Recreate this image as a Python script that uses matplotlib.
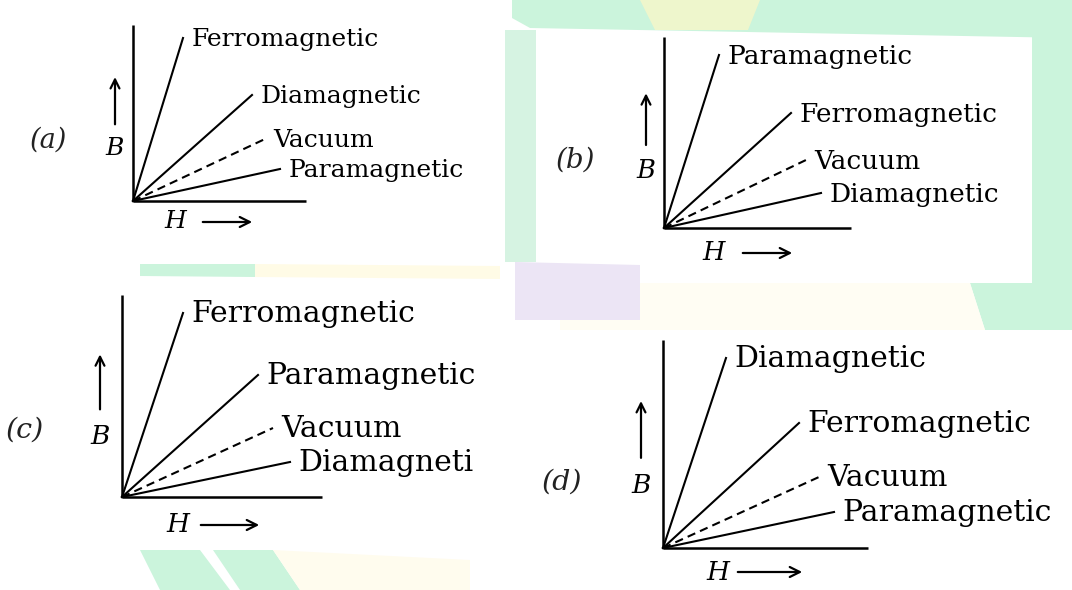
import matplotlib.pyplot as plt
from matplotlib.patches import Polygon

# line end points (H, B) measured from the origin of each sketch, in pixels
labels_a = ["Ferromagnetic", "Diamagnetic", "Vacuum", "Paramagnetic"]
h_a = [50, 119, 132, 147]
b_a = [163, 106, 62, 32]

labels_b = ["Paramagnetic", "Ferromagnetic", "Vacuum", "Diamagnetic"]
h_b = [55, 127, 142, 157]
b_b = [173, 115, 68, 35]

labels_c = ["Ferromagnetic", "Paramagnetic", "Vacuum", "Diamagneti"]
h_c = [61, 136, 151, 168]
b_c = [184, 122, 69, 35]

labels_d = ["Diamagnetic", "Ferromagnetic", "Vacuum", "Paramagnetic"]
h_d = [63, 136, 156, 171]
b_d = [190, 125, 71, 36]

# layout of the four sketches: origin, axis lengths, font sizes, tag and arrow positions
panels = [
    dict(tag="(a)", labels=labels_a, h=h_a, b=b_a, ox=133, oy=201, hx=173, by=176, fs=18, ls=18,
         tx=48, ty=140, bx=-18, hl=42, ha0=67, ha1=122, hy=21),
    dict(tag="(b)", labels=labels_b, h=h_b, b=b_b, ox=664, oy=228, hx=187, by=191, fs=19, ls=18.5,
         tx=575, ty=160, bx=-18, hl=50, ha0=76, ha1=131, hy=25),
    dict(tag="(c)", labels=labels_c, h=h_c, b=b_c, ox=122, oy=497, hx=200, by=202, fs=21.5, ls=19,
         tx=25, ty=430, bx=-22, hl=56, ha0=76, ha1=140, hy=28),
    dict(tag="(d)", labels=labels_d, h=h_d, b=b_d, ox=663, oy=548, hx=205, by=208, fs=21.5, ls=19,
         tx=562, ty=482, bx=-22, hl=55, ha0=72, ha1=142, hy=24),
]

plt.rcParams["font.family"] = ["DejaVu Serif"]

fig = plt.figure(figsize=(10.72, 5.9), dpi=100)
ax = fig.add_axes([0, 0, 1, 1])
ax.set_xlim(0, 1072)
ax.set_ylim(590, 0)
ax.axis("off")

# faint watermark patches behind the scans
green = "#cbf4dc"
patches = [
    ([[512, 0], [1072, 0], [1072, 38], [530, 28], [512, 18]], green),
    ([[640, 0], [760, 0], [748, 30], [655, 30]], "#eef6cc"),
    ([[1032, 30], [1072, 30], [1072, 330], [1032, 330]], green),
    ([[970, 283], [1072, 283], [1072, 330], [985, 330]], green),
    ([[560, 283], [970, 283], [985, 330], [560, 330]], "#fffdf3"),
    ([[515, 262], [640, 265], [640, 320], [515, 320]], "#ece5f5"),
    ([[505, 30], [536, 30], [536, 262], [505, 262]], "#d6f3e2"),
    ([[140, 264], [255, 264], [255, 277], [140, 276]], green),
    ([[255, 264], [500, 266], [500, 279], [255, 277]], "#fffbe6"),
    ([[140, 550], [200, 550], [230, 590], [160, 590]], green),
    ([[213, 550], [273, 550], [300, 590], [240, 590]], green),
    ([[273, 550], [470, 560], [470, 590], [300, 590]], "#fffcee"),
]
for pts, col in patches:
    ax.add_patch(Polygon(pts, color=col, lw=0, zorder=0))

for p in panels:
    ox, oy = p["ox"], p["oy"]
    fs = p["fs"]
    # axes
    ax.plot([ox, ox], [oy, oy - p["by"]], color="black", lw=1.8, solid_capstyle="butt")
    ax.plot([ox, ox + p["hx"]], [oy, oy], color="black", lw=1.8, solid_capstyle="butt")
    # lines
    for lab, h, b in zip(p["labels"], p["h"], p["b"]):
        if lab == "Vacuum":
            ax.plot([ox, ox + h], [oy, oy - b], color="black", lw=1.5, dashes=(4, 2.5))
        else:
            ax.plot([ox, ox + h], [oy, oy - b], color="black", lw=1.5)
        ax.annotate(lab, (ox + h, oy - b), xytext=(6, -1), textcoords="offset points",
                    ha="left", va="center", fontsize=fs, color="black")
    # tag
    ax.text(p["tx"], p["ty"], p["tag"], fontsize=p["ls"] + 1.5, style="italic",
            ha="center", va="center", color="#222222")
    # B arrow
    bx = ox + p["bx"]
    ax.annotate("", xy=(bx, oy - p["by"] * 0.72), xytext=(bx, oy - p["by"] * 0.42),
                arrowprops=dict(arrowstyle="->", lw=1.6, color="black", mutation_scale=16))
    ax.text(bx, oy - p["by"] * 0.3, "B", fontsize=p["ls"], style="italic", ha="center", va="center")
    # H arrow
    hy = oy + p["hy"]
    ax.text(ox + p["hl"], hy, "H", fontsize=p["ls"], style="italic", ha="center", va="center")
    ax.annotate("", xy=(ox + p["ha1"], hy), xytext=(ox + p["ha0"], hy),
                arrowprops=dict(arrowstyle="->", lw=1.6, color="black", mutation_scale=18))

fig.savefig("out.png", dpi=100)
